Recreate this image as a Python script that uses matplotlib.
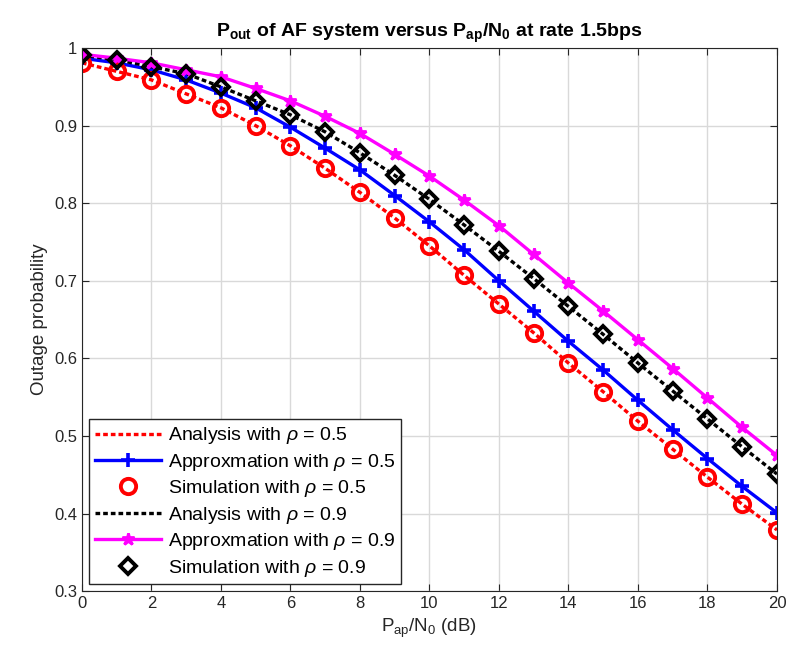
import matplotlib
matplotlib.use("Agg")
import matplotlib.pyplot as plt
import numpy as np

plt.rcParams['font.family'] = ['Liberation Sans', 'DejaVu Sans']
plt.rcParams['mathtext.fontset'] = 'custom'
plt.rcParams['mathtext.rm'] = 'Liberation Sans'
plt.rcParams['mathtext.it'] = 'Liberation Sans:italic'
plt.rcParams['mathtext.bf'] = 'Liberation Sans:bold'

snr_db = list(range(0, 21))
analysis_05 = [0.981, 0.970, 0.959, 0.941, 0.923, 0.900, 0.874, 0.845, 0.814, 0.781, 0.745,
               0.707, 0.670, 0.633, 0.594, 0.557, 0.519, 0.483, 0.447, 0.412, 0.379]
approx_05 = [0.987, 0.981, 0.972, 0.959, 0.942, 0.923, 0.898, 0.871, 0.843, 0.810, 0.776,
             0.740, 0.700, 0.661, 0.622, 0.585, 0.546, 0.508, 0.471, 0.435, 0.401]
sim_05 = analysis_05
analysis_09 = [0.991, 0.985, 0.976, 0.967, 0.950, 0.932, 0.914, 0.892, 0.865, 0.836, 0.805,
               0.772, 0.738, 0.703, 0.667, 0.631, 0.594, 0.558, 0.522, 0.486, 0.451]
approx_09 = [0.992, 0.987, 0.981, 0.972, 0.963, 0.948, 0.932, 0.912, 0.890, 0.863, 0.835,
             0.804, 0.771, 0.734, 0.697, 0.661, 0.624, 0.587, 0.549, 0.511, 0.475]
sim_09 = analysis_09

labels = [r'Analysis with $\rho$ = 0.5', r'Approxmation with $\rho$ = 0.5',
          r'Simulation with $\rho$ = 0.5', r'Analysis with $\rho$ = 0.9',
          r'Approxmation with $\rho$ = 0.9', r'Simulation with $\rho$ = 0.9']

fig = plt.figure(figsize=(7.88, 6.68), dpi=100)
ax = fig.add_axes([0.104, 0.115, 0.882, 0.813])

lw = 2.4
dots = (0, (1.4, 0.9))
ax.plot(snr_db, analysis_05, linestyle=dots, color='red', lw=lw, label=labels[0])
ax.plot(snr_db, approx_05, '-', color='blue', lw=lw, marker='+', ms=10, mew=2.6, label=labels[1])
ax.plot(snr_db, sim_05, 'o', color='red', ms=11, mfc='none', mew=2.8, label=labels[2])
ax.plot(snr_db, analysis_09, linestyle=dots, color='black', lw=lw, label=labels[3])
ax.plot(snr_db, approx_09, '-', color='magenta', lw=lw, marker='*', ms=9, mew=2, label=labels[4])
ax.plot(snr_db, sim_09, 'D', color='black', ms=8.5, mfc='none', mew=2.8, label=labels[5])

ax.set_xlim(0, 20)
ax.set_ylim(0.3, 1.0)
ax.set_xticks(range(0, 21, 2))
ax.set_yticks(np.round(np.arange(0.3, 1.01, 0.1), 1))
ax.set_yticklabels(['0.3', '0.4', '0.5', '0.6', '0.7', '0.8', '0.9', '1'])
ax.grid(True, color='#d9d9d9', lw=1)
ax.set_axisbelow(True)
ax.tick_params(direction='in', top=True, right=True, labelsize=12, colors='#262626', length=5)
for s in ax.spines.values():
    s.set_color('#262626')

ax.set_xlabel(r'P$_{\mathrm{ap}}$/N$_{\mathrm{0}}$ (dB)', fontsize=13.5, color='#262626')
ax.set_ylabel('Outage probability', fontsize=13.5, color='#262626')
ax.set_title(r'$\mathbf{P}_{\mathbf{out}}$ of AF system versus $\mathbf{P}_{\mathbf{ap}}$/N$_{\mathbf{0}}$ at rate 1.5bps',
             fontsize=14, fontweight='bold', pad=8)

leg = ax.legend(loc='lower left', fontsize=14, fancybox=False, framealpha=1,
                edgecolor='#262626', borderpad=0.3, labelspacing=0.28,
                handlelength=3.4, handletextpad=0.35, borderaxespad=0.35)
leg.get_frame().set_linewidth(1.0)

fig.savefig('out.png', dpi=100)
